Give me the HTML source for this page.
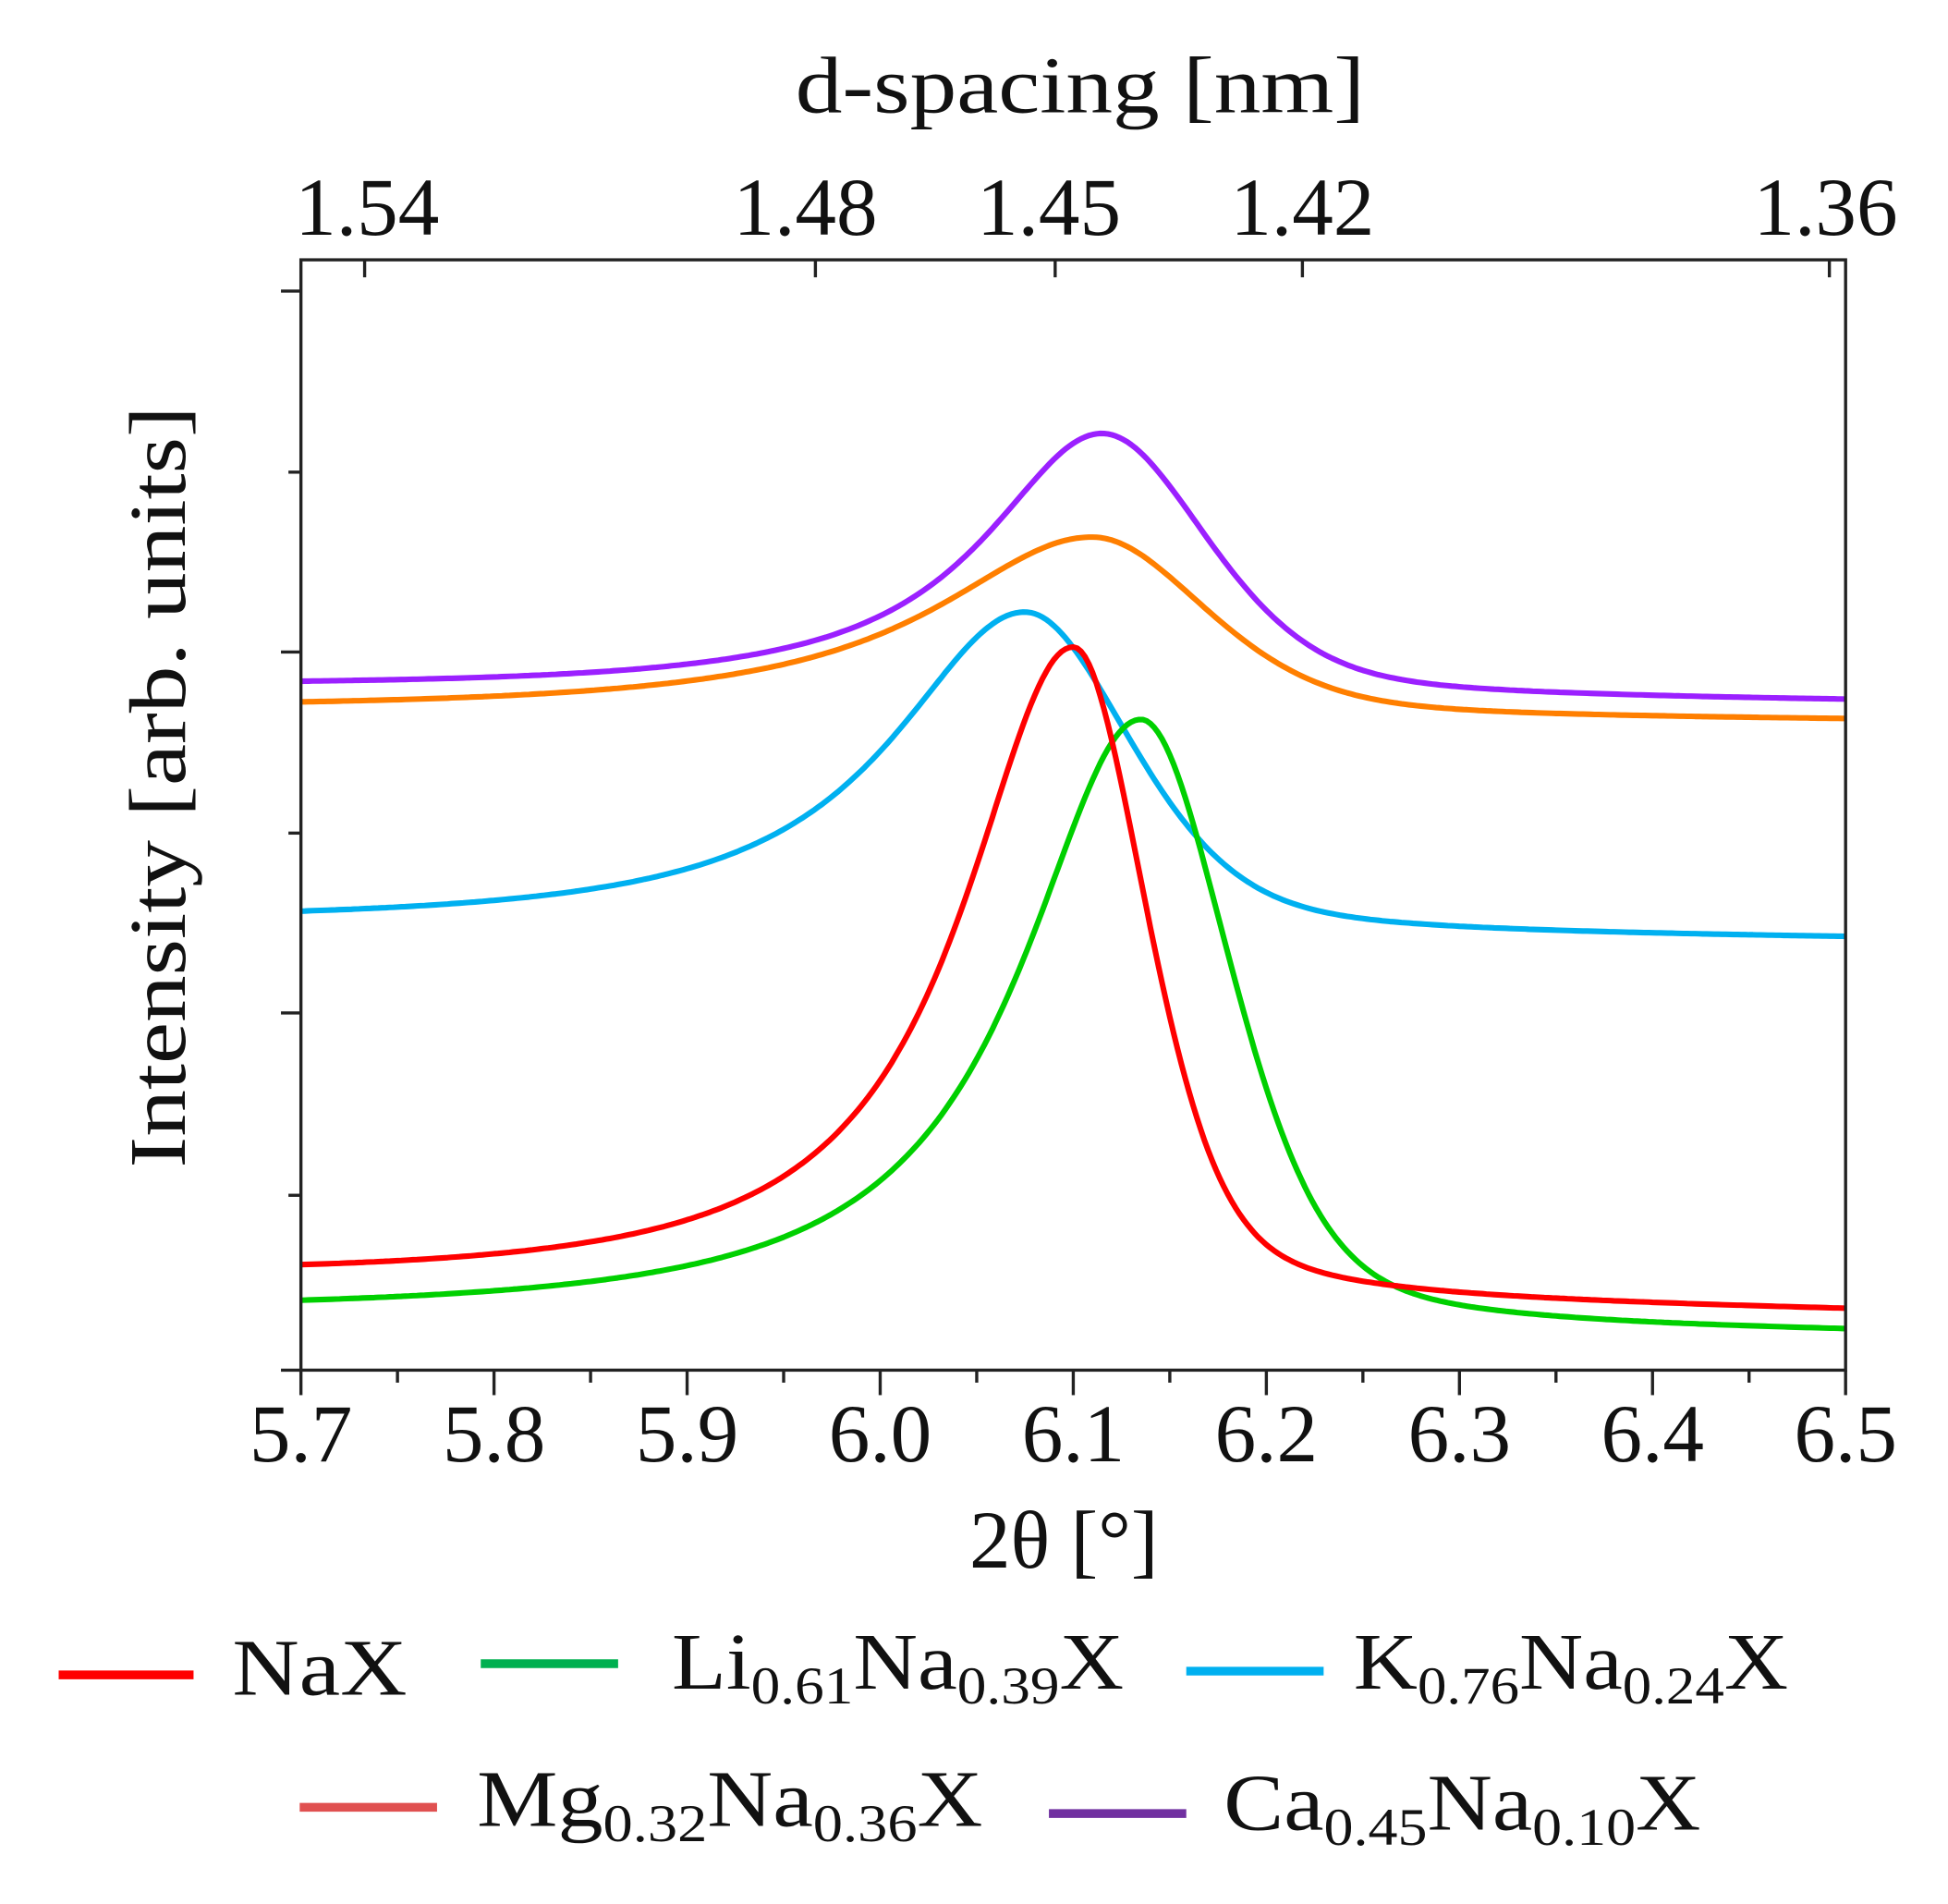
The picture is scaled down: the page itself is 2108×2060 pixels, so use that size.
<!DOCTYPE html>
<html><head><meta charset="utf-8"><style>
html,body{margin:0;padding:0;background:#fff;}
svg{display:block;}
text{font-family:"Liberation Serif",serif;fill:#111;}
</style></head><body>
<svg id="s" width="2108" height="2060" viewBox="0 0 1560 1524.4" xmlns="http://www.w3.org/2000/svg">
<rect width="1560" height="1525" fill="#fff"/>
<g id="curves" fill="none" stroke-width="4.5" stroke-linejoin="round"></g>
<rect x="241" y="208" width="1237" height="889" fill="none" stroke="#222" stroke-width="2.5"/>
<line x1="225" y1="1097" x2="241" y2="1097" stroke="#222" stroke-width="2.5"/>
<g id="ticks" stroke="#222" stroke-width="2.5"></g>
<text x="637" y="90" font-size="64" textLength="456" lengthAdjust="spacingAndGlyphs">d-spacing [nm]</text>
<g font-size="66" text-anchor="middle">
<text x="294" y="188">1.54</text><text x="645" y="188">1.48</text><text x="840" y="188">1.45</text><text x="1043" y="188">1.42</text><text x="1462" y="188">1.36</text>
</g>
<g id="bl" font-size="66" text-anchor="middle"></g>
<text x="852" y="1255" font-size="66" text-anchor="middle">2θ [°]</text>
<text transform="translate(148,630) rotate(-90)" font-size="64" text-anchor="middle" textLength="610" lengthAdjust="spacingAndGlyphs">Intensity [arb. units]</text>
<g stroke-width="7">
<line x1="47" y1="1341" x2="155" y2="1341" stroke="#f00"/>
<line x1="385" y1="1332" x2="495" y2="1332" stroke="#00b050"/>
<line x1="950" y1="1338" x2="1060" y2="1338" stroke="#00b0f0"/>
<line x1="240" y1="1447" x2="350" y2="1447" stroke="#e05050"/>
<line x1="840" y1="1452" x2="950" y2="1452" stroke="#7030a0"/>
</g>
<g font-size="64">
<text x="186" y="1357" textLength="140" lengthAdjust="spacingAndGlyphs">NaX</text>
<text x="538" y="1352" textLength="362" lengthAdjust="spacingAndGlyphs">Li<tspan font-size="42" dy="12">0.61</tspan><tspan dy="-12">Na</tspan><tspan font-size="42" dy="12">0.39</tspan><tspan dy="-12">X</tspan></text>
<text x="1084" y="1352" textLength="348" lengthAdjust="spacingAndGlyphs">K<tspan font-size="42" dy="12">0.76</tspan><tspan dy="-12">Na</tspan><tspan font-size="42" dy="12">0.24</tspan><tspan dy="-12">X</tspan></text>
<text x="382" y="1462" textLength="405" lengthAdjust="spacingAndGlyphs">Mg<tspan font-size="42" dy="12">0.32</tspan><tspan dy="-12">Na</tspan><tspan font-size="42" dy="12">0.36</tspan><tspan dy="-12">X</tspan></text>
<text x="980" y="1465" textLength="382" lengthAdjust="spacingAndGlyphs">Ca<tspan font-size="42" dy="12">0.45</tspan><tspan dy="-12">Na</tspan><tspan font-size="42" dy="12">0.10</tspan><tspan dy="-12">X</tspan></text>
</g>
</svg>
<script>
var NS="http://www.w3.org/2000/svg";
function X(t){return 241+(t-5.7)*1237/0.8;}
var tk=document.getElementById('ticks'),bl=document.getElementById('bl');
function ln(x1,y1,x2,y2){var l=document.createElementNS(NS,'line');l.setAttribute('x1',x1);l.setAttribute('y1',y1);l.setAttribute('x2',x2);l.setAttribute('y2',y2);tk.appendChild(l);}
for(var i=0;i<=16;i++){var t=5.7+i*0.05,x=X(t);ln(x,1097,x,1097+(i%2?10:20));
 if(i%2==0){var tx=document.createElementNS(NS,'text');tx.setAttribute('x',x);tx.setAttribute('y',1170);tx.textContent=(5.7+i*0.05).toFixed(1);bl.appendChild(tx);}}
[292,653,845,1043,1465].forEach(function(x){ln(x,208,x,222);});
[233,522,811].forEach(function(y){ln(225,y,241,y);});
[378,667,957].forEach(function(y){ln(231,y,241,y);});
var C=[
 ["#ff7f00",570,577,6.11,430,0.10,0.07],
 ["#9b20ff",552,562,6.115,347,0.075,0.065],
 ["#00b0f0",742,752,6.075,490,0.085,0.065],
 ["#00d000",1055,1068,6.135,576,0.075,0.055],
 ["#ff0000",1028,1050,6.10,518,0.07,0.045]
];
var g=document.getElementById('curves');
C.forEach(function(c){
 var d="";
 for(var t=5.7;t<=6.5001;t+=0.002){
  var base=c[1]+(c[2]-c[1])*(t-5.7)/0.8;
  var bp=c[1]+(c[2]-c[1])*(c[3]-5.7)/0.8;
  var A=bp-c[4], left=t<c[3], gm=left?c[5]:c[6];
  var u=(t-c[3])/gm, L=1/(1+u*u), G=Math.exp(-0.693*u*u);
  var eta=left?1:0.4;
  var y=base-A*(eta*L+(1-eta)*G);
  d+=(d?"L":"M")+X(t).toFixed(1)+","+y.toFixed(1);
 }
 var p=document.createElementNS(NS,'path');p.setAttribute('d',d);p.setAttribute('stroke',c[0]);g.appendChild(p);
});
</script>
</body></html>
